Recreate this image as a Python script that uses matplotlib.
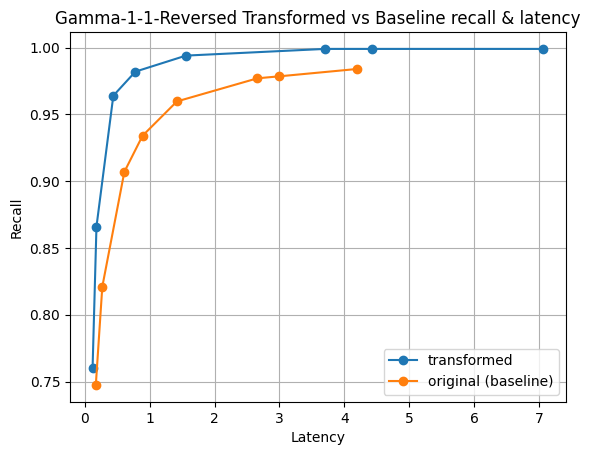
import matplotlib
matplotlib.use("Agg")
import matplotlib.pyplot as plt

transformed_latency = [0.12, 0.18, 0.44, 0.78, 1.56, 3.70, 4.42, 7.07]
transformed_recall = [0.760, 0.866, 0.964, 0.982, 0.994, 0.999, 0.999, 0.999]
baseline_latency = [0.17, 0.27, 0.61, 0.89, 1.42, 2.66, 3.00, 4.20]
baseline_recall = [0.7475, 0.821, 0.907, 0.934, 0.9597, 0.977, 0.9785, 0.984]

fig, ax = plt.subplots(figsize=(6.4, 4.8), dpi=100)
ax.plot(transformed_latency, transformed_recall, marker="o", label="transformed")
ax.plot(baseline_latency, baseline_recall, marker="o", label="original (baseline)")
ax.set_xlabel("Latency")
ax.set_ylabel("Recall")
ax.set_title("Gamma-1-1-Reversed Transformed vs Baseline recall & latency")
ax.grid(True)
ax.legend(loc="lower right")
fig.savefig("out.png", bbox_inches="tight")
